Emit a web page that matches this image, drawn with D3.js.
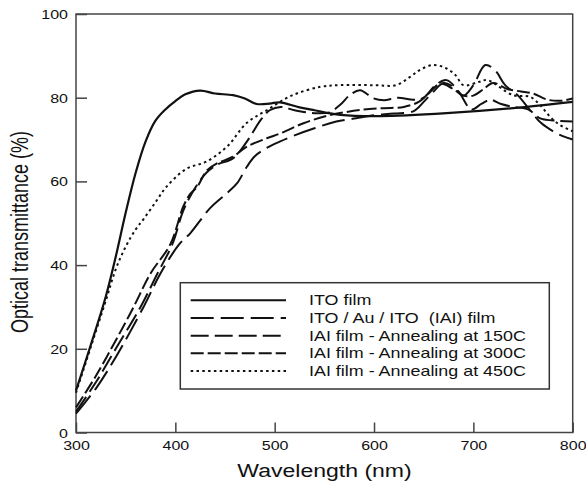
<!DOCTYPE html>
<html>
<head>
<meta charset="utf-8">
<script src="https://cdn.jsdelivr.net/npm/d3@7"></script>
<style>
  body { margin: 0; background: #fff; }
  svg text { font-family: Arial, "Liberation Sans", sans-serif; fill: #111; }
</style>
</head>
<body>
<svg id="chart" width="586" height="488"></svg>
<script>
// wavelength (nm) / transmittance (%) pairs
var itoFilm = [[300,10],[315,21],[330,32.5],[340,42],[350,52.5],[360,62],[370,69.5],[380,74.5],[390,77.2],[400,79.2],[410,80.8],[425,81.7],[440,81],[458,80.6],[470,79.8],[482,78.5],[495,78.6],[505,78.9],[525,77.7],[540,77],[566,75.9],[606,75.6],[673,76.3],[740,77.5],[800,79]];
var iaiFilm = [[300,4.5],[320,10.5],[340,18],[368,30],[385,38],[404,45],[415,47.6],[435,53.6],[452,57.2],[462,59.5],[472,63.5],[480,66],[492,68],[505,69.5],[520,71],[540,72.7],[562,74.3],[582,75.1],[600,75.8],[620,76.2],[640,76.8],[650,79],[660,81.5],[670,83.5],[680,82.5],[690,80.5],[700,83],[712,87.8],[722,86.5],[732,83],[745,80.5],[757,77],[768,74],[780,72],[790,70.8],[800,70]];
var anneal150 = [[300,5],[320,12],[340,20],[365,30],[382,38],[397,45],[408,53],[420,58.5],[431,62],[442,64],[458,65.5],[472,69.5],[486,74.7],[495,77],[506,77.8],[520,77],[540,76.3],[555,76.5],[566,78.3],[576,80.7],[586,81.8],[599,79.9],[610,79.4],[624,80],[640,79.5],[650,80],[662,83],[673,84.2],[685,81.5],[698,77.2],[708,78.5],[717,79.5],[728,78.5],[740,77.8],[755,77.2],[768,75],[785,74.5],[800,74.3]];
var anneal300 = [[300,6],[320,13.5],[340,22],[358,30],[375,38],[395,45],[408,54],[415,57],[422,58.7],[432,62.7],[442,64.3],[458,65.9],[472,68.3],[492,70.3],[506,71.5],[529,73.9],[550,75.5],[570,76.5],[590,77.2],[610,77.5],[630,77.8],[645,79],[655,81],[667,83.4],[680,82],[690,80.5],[700,80.5],[710,82],[720,83.5],[735,82],[748,81.5],[760,81],[775,79.5],[790,79.3],[800,79.8]];
var anneal450 = [[300,9.5],[315,20.5],[330,31.5],[340,39],[350,44.4],[360,48.5],[368,51],[380,55],[391,58.7],[411,63],[431,64.7],[452,68.3],[472,74],[492,77],[517,80.5],[546,82.6],[566,83],[600,83],[622,83],[636,84.9],[646,86.6],[659,87.8],[672,87.1],[682,85.4],[690,83],[706,83.8],[714,84.2],[740,80.6],[757,80.2],[767,78.3],[777,75.5],[787,73.5],[800,72]];

var seriesNames = ["ITO film", "ITO / Au / ITO  (IAI) film", "IAI film - Annealing at 150C", "IAI film - Annealing at 300C", "IAI film - Annealing at 450C"];
var seriesData = [itoFilm, iaiFilm, anneal150, anneal300, anneal450];
var dashes = [null, "23,7", "18,6", "13,4", "2.5,3.3"];

var xTicks = [300, 400, 500, 600, 700, 800];
var yTicks = [0, 20, 40, 60, 80, 100];

var stretch = 1.28; // the figure's text is wider than it is tall

var svg = d3.select("#chart");
var plotL = 76, plotR = 572.7, plotT = 14, plotB = 432.5;

var x = d3.scaleLinear().domain([300, 800]).range([plotL, plotR]);
var y = d3.scaleLinear().domain([0, 100]).range([plotB, plotT]);

//axes with inward ticks
var xAxis = svg.append("g")
  .attr("transform", "translate(0," + plotB + ")")
  .call(d3.axisBottom(x).tickValues(xTicks).tickSizeInner(-10).tickSizeOuter(0).tickPadding(0));
var yAxis = svg.append("g")
  .attr("transform", "translate(" + plotL + ",0)")
  .call(d3.axisLeft(y).tickValues(yTicks).tickSizeInner(-11).tickSizeOuter(0).tickPadding(0));

[xAxis, yAxis].forEach(function(ax){
  ax.select(".domain").remove();
  ax.selectAll(".tick line").attr("stroke", "#444").attr("stroke-width", 1.5);
  ax.selectAll(".tick text").attr("font-size", 12.5).attr("fill", "#111");
});
xAxis.selectAll(".tick text")
  .attr("y", 0).attr("dy", 0)
  .attr("transform", "translate(0,17.5) scale(" + stretch + ",1)");
yAxis.selectAll(".tick text")
  .attr("x", 0).attr("dy", 0)
  .attr("transform", "translate(-8,4.5) scale(" + stretch + ",1)");

//frame
svg.append("rect")
  .attr("x", plotL).attr("y", plotT)
  .attr("width", plotR - plotL).attr("height", plotB - plotT)
  .attr("fill", "none").attr("stroke", "#444").attr("stroke-width", 1.5);

//curves
var line = d3.line()
  .x(function(d){ return x(d[0]); })
  .y(function(d){ return y(d[1]); })
  .curve(d3.curveCatmullRom.alpha(0.5));

svg.append("g").selectAll("path")
  .data(seriesData)
  .enter().append("path")
  .attr("d", line)
  .attr("fill", "none")
  .attr("stroke", "#111")
  .attr("stroke-width", function(d, i){ return i == 0 ? 2.2 : 2; })
  .attr("stroke-dasharray", function(d, i){ return dashes[i]; });

//axis titles
svg.append("text")
  .attr("transform", "translate(324.5,477) scale(" + stretch + ",1)")
  .attr("text-anchor", "middle")
  .attr("font-size", 18)
  .text("Wavelength (nm)");
svg.append("text")
  .attr("transform", "translate(28,232) rotate(-90) scale(1," + stretch + ")")
  .attr("text-anchor", "middle")
  .attr("font-size", 18)
  .text("Optical transmittance (%)");

//legend
var legend = svg.append("g");
legend.append("rect")
  .attr("x", 180.3).attr("y", 282.7)
  .attr("width", 369).attr("height", 106.3)
  .attr("fill", "#fff").attr("stroke", "#333").attr("stroke-width", 1.5);

var rowY = d3.scaleLinear().domain([0, 4]).range([300.3, 371]);
var rows = legend.selectAll("g.row")
  .data(seriesNames)
  .enter().append("g").attr("class", "row");
rows.append("line")
  .attr("x1", 190.7).attr("x2", 286)
  .attr("y1", function(d, i){ return rowY(i); })
  .attr("y2", function(d, i){ return rowY(i); })
  .attr("stroke", "#111").attr("stroke-width", 2)
  .attr("stroke-dasharray", function(d, i){ return dashes[i]; });
rows.append("text")
  .attr("transform", function(d, i){ return "translate(309," + (rowY(i) + 5) + ") scale(" + stretch + ",1)"; })
  .attr("font-size", 14)
  .style("white-space", "pre")
  .text(function(d){ return d; });
</script>
</body>
</html>
